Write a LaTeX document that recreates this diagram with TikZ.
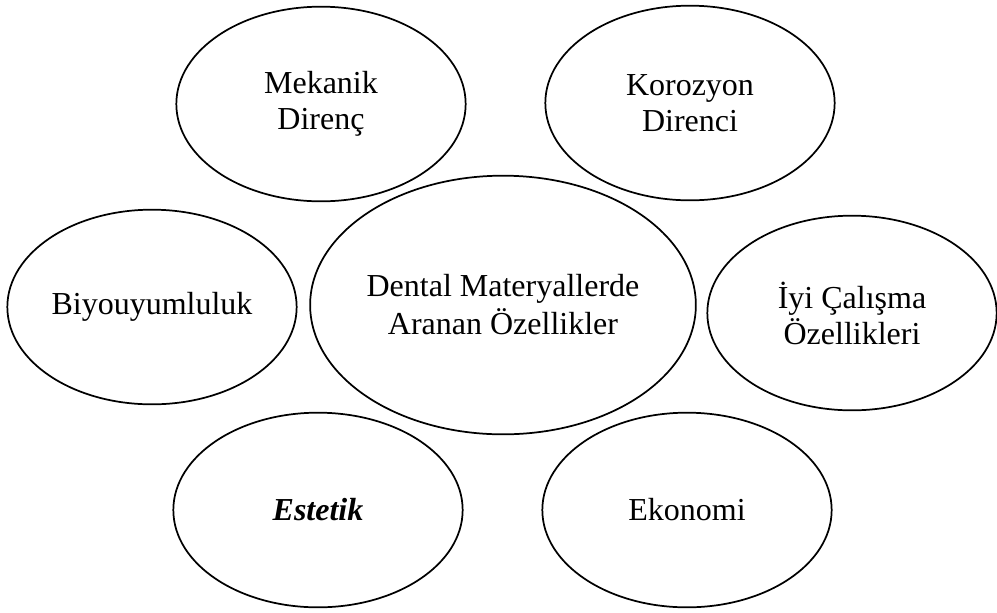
\documentclass[tikz,border=0pt]{standalone}
\usepackage{fontspec}
\setmainfont{Liberation Serif}
\usetikzlibrary{shapes.geometric}

\begin{document}
\begin{tikzpicture} [
    x=0.75pt, y=-0.75pt,
    prop/.style = { ellipse, draw, line width=1.3pt, inner sep=0pt,
                    minimum width=217pt, minimum height=146pt,
                    align=center, font=\fontsize{24}{27}\selectfont },
    main/.style = { prop, minimum width=286pt, minimum height=194pt,
                    font=\fontsize{24}{28.5}\selectfont },
  ]
\useasboundingbox (0,0) rectangle (997,612);

\node (Ozellik) [main] at (503,305) {Dental Materyallerde\\Aranan Özellikler};

\node (Mekanik) [prop] at (321,104) {Mekanik\\Direnç};
\node (Korozyon) [prop] at (690,103) {Korozyon\\Direnci};
\node (Biyo) [prop] at (152,307) {Biyouyumluluk};
\node (Calisma) [prop] at (852,313) {İyi Çalışma\\Özellikleri};
\node (Estetik) [prop] at (318,510) {\textbf{\textit{Estetik}}};
\node (Ekonomi) [prop] at (687,510) {Ekonomi};

\end{tikzpicture}
\end{document}
